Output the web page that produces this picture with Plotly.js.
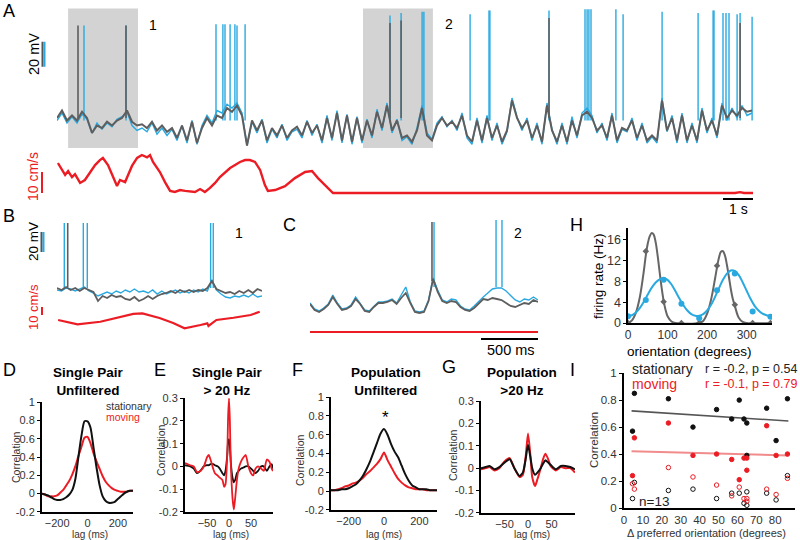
<!DOCTYPE html>
<html>
<head>
<meta charset="utf-8">
<script src="https://cdn.plot.ly/plotly-3.0.1.min.js"></script>
<style>html,body{margin:0;padding:0;background:#fff}#fig{width:800px;height:540px}</style>
</head>
<body>
<div id="fig"></div>
<script>
// ---------- data ----------

// A: membrane potential (mV), sampled every 1/6 s
const dtA = 1 / 6;
const aBlue = [-48,-42,-50,-45,-50,-43,-47,-58,-50,-55, -50,-53,-47,-45,-41,-52,-56,-54,-57,-50,
  -59,-54,-60,-55,-64,-52,-66,-48,-67,-52, -44,-50,-40,-42,-35,-38,-34,-42,-68,-49,
  -58,-47,-66,-55,-62,-51,-64,-57,-55,-62, -48,-60,-51,-66,-44,-64,-40,-66,-43,-67,
  -45,-66,-47,-62,-39,-56,-34,-58,-47,-64, -61,-67,-54,-36,-58,-63,-50,-45,-53,-48,
  -56,-42,-62,-67,-46,-66,-44,-64,-50,-67, -57,-30,-45,-56,-46,-64,-50,-67,-34,-55,
  -67,-50,-67,-45,-62,-42,-38,-44,-58,-50, -64,-42,-66,-55,-57,-46,-64,-50,-66,-61,
  -66,-30,-57,-44,-66,-42,-66,-50,-66,-38, -58,-46,-62,-34,-48,-38,-46,-36,-44,-42];
const aGray = [-46,-40,-48,-44,-48,-41,-46,-58,-52,-54, -49,-52,-48,-46,-40,-49,-52,-51,-54,-49,
  -56,-52,-57,-54,-62,-52,-64,-49,-66,-54, -46,-52,-44,-46,-38,-41,-36,-44,-68,-48,
  -56,-48,-64,-54,-60,-52,-62,-56,-53,-60, -49,-58,-52,-64,-46,-62,-42,-64,-44,-65,
  -46,-64,-48,-60,-41,-54,-36,-56,-48,-62, -60,-65,-56,-38,-60,-64,-52,-46,-52,-49,
  -54,-44,-60,-65,-48,-64,-46,-62,-52,-65, -56,-32,-46,-54,-48,-62,-52,-65,-36,-56,
  -65,-52,-65,-48,-60,-44,-41,-46,-56,-52, -62,-44,-64,-54,-56,-48,-62,-52,-64,-60,
  -64,-32,-56,-46,-64,-44,-64,-52,-64,-40, -56,-48,-60,-36,-46,-40,-44,-38,-41,-40];
const aBlueSpikeT = [0.90,2.30,5.30,5.53,5.60,5.77,5.93,6.00,6.27,11.10,11.47,12.17,12.23,13.77,14.40,14.43,
  16.40,17.60,17.67,17.73,17.80,18.63,18.87,20.17,21.37,21.87,21.90,22.20,22.30,22.40,22.67,22.77,23.17];
const aBlueSpikeV = [28,28,29,29,29,29,29,28,29,36,38,39,39,37,40,40,
  40,41,41,41,41,41,37,39,38,40,40,38,38,38,37,38,35];
const aGraySpikeT = [0.70,2.30,11.10,11.47,16.40,22.77];
const aGraySpikeV = [28,28,30,32,34,30];
const epochStart = [0.37, 10.2];
const epochEnd = [2.70, 12.53];
const epochLabel = ['1', '2'];

// A: running speed (cm/s)
const aSpeedT = [0.03,0.27,0.37,0.5,0.6,0.77,0.93,1.1,1.27,1.43, 1.53,1.7,1.87,2.0,2.1,2.27,2.37,2.5,2.67,2.83,
  3.0,3.1,3.2,3.43,3.6,3.77,3.93,4.1,4.27,4.6, 4.77,4.93,5.1,5.27,5.43,5.77,6.1,6.27,6.43,6.6,
  6.77,6.93,7.03,7.27,7.6,7.93,8.27,8.5,8.7,8.83, 9.1,9.2,15.0,22.6,22.77,22.9,23.2];
const aSpeed = [14.3,8.6,10.5,7.6,9.0,4.8,6.2,10.0,13.3,15.7, 16.7,13.3,7.6,3.3,6.2,5.2,8.6,12.9,16.7,18.1,
  17.0,18.1,14.8,10.0,5.2,1.0,0.5,1.4,1.0,0.5, 1.9,0.5,2.4,4.8,7.6,11.9,14.8,15.7,15.7,14.8,
  11.0,3.8,1.0,1.4,3.3,7.1,10.0,10.5,7.1,5.2, 1.4,0,0,0,0.4,0,0];

// B: epoch 1 (mV), every 0.04 s
const dtBC = 0.04;
const bGray = [-58,-60,-57,-60,-58,-61,-58,-60,-62,-71, -66,-68,-65,-67,-66,-69,-70,-67,-71,-69,
  -66,-69,-66,-64,-63,-61,-63,-60,-62,-60, -62,-60,-61,-58,-51,-59,-61,-63,-62,-64, -61,-63,-60,-63,-59,-61];
const bBlue = [-60,-61,-58,-59,-61,-59,-57,-61,-63,-66, -64,-62,-64,-61,-63,-60,-62,-59,-62,-61,
  -63,-60,-64,-61,-64,-62,-60,-63,-61,-63, -60,-62,-59,-61,-50,-60,-64,-67,-68,-66, -67,-65,-67,-64,-67,-66];
const bBlueSpikeT = [0.064,0.231,0.266,1.349,1.372];
const bGraySpikeT = [0.094];
const bSpeedT = [0.01,0.18,0.38,0.67,0.75,0.90,1.02,1.12,1.26,1.32,1.33,1.40,1.55,1.70,1.78];
const bSpeed = [18.8,13.4,16.6,26.3,27.1,21.3,15.0,8.4,12.5,14.6,11.3,18.8,21.6,25.0,29.1];

// C: epoch 2 (mV), every 0.04 s
const cBlue = [-58,-64,-66,-63,-59,-50,-58,-64,-63,-60, -52,-58,-65,-66,-61,-57,-57,-56,-54,-58,
  -50,-42,-57,-66,-67,-66,-55,-33,-45,-55, -57,-54,-55,-61,-64,-65,-61,-56,-52,-48,
  -44,-43,-43,-46,-51,-55,-57,-54,-55,-52, -55];
const cGray = [-59,-65,-67,-64,-60,-52,-59,-65,-64,-61, -54,-59,-66,-67,-62,-58,-58,-57,-55,-59,
  -53,-48,-58,-67,-68,-67,-56,-34,-47,-56, -58,-56,-57,-62,-65,-66,-63,-58,-54,-55,
  -53,-54,-55,-58,-61,-62,-60,-58,-59,-55, -57];
const cBlueSpikeT = [1.088,1.632,1.684];
const cBlueSpikeV = [23,25,25];
const cGraySpikeT = [1.07];
const cGraySpikeV = [23];
const cSpeedT = [0, 2.0];
const cSpeed = [0, 0];

// D-G: cross-correlations
const lagD = [-300,-280,-260,-240,-220,-200,-180,-160,-140,-120,-100,-80,-60,-40,-20,0,
  20,40,60,80,100,120,140,160,180,200,220,240,260,280,300];
const dStat = [0.00,-0.01,-0.02,-0.04,-0.06,-0.07,-0.07,-0.06,-0.04,-0.01,0.04,0.16,0.40,0.63,0.79,0.79,
  0.72,0.50,0.28,0.09,-0.03,-0.08,-0.10,-0.10,-0.09,-0.06,-0.03,0.00,0.02,0.03,0.03];
const dMov = [0.00,-0.01,-0.03,-0.03,-0.03,-0.02,0.01,0.04,0.09,0.14,0.21,0.30,0.41,0.51,0.61,0.62,
  0.55,0.44,0.35,0.27,0.19,0.13,0.09,0.06,0.04,0.03,0.02,0.02,0.02,0.03,0.03];

const lagE = [-100,-88,-80,-73,-65,-57,-50,-46,-42,-36,-32,-26,-21,-15,-11,-8,-4,-2,0,2,
  4,8,11,14,18,22,27,33,38,44,50,55,60,66,73,79,86,92,97,100];
const eStat = [0.005,0.0,-0.01,-0.03,-0.02,0.0,0.005,0.005,0.01,0.01,0.005,0.0,-0.01,-0.03,-0.04,-0.02,0.05,0.11,0.12,0.09,
  0.02,-0.05,-0.07,-0.06,-0.03,-0.02,-0.01,-0.005,0.0,0.0,-0.01,-0.02,-0.03,-0.02,0.0,0.0,-0.02,0.0,0.01,-0.01];
const eMov = [0.015,0.005,0.0,-0.025,-0.02,0.0,0.04,0.05,0.03,-0.01,-0.03,-0.04,-0.05,-0.06,-0.09,-0.08,0.05,0.22,0.30,0.20,
  0.02,-0.14,-0.19,-0.14,-0.06,-0.01,0.02,0.04,0.05,0.0,-0.03,-0.04,-0.01,0.0,-0.01,-0.02,0.03,0.02,-0.01,-0.02];

const lagF = lagD;
const fStat = [0.01,0.01,0.01,0.02,0.02,0.03,0.05,0.07,0.11,0.16,0.23,0.31,0.41,0.51,0.61,0.66,
  0.60,0.50,0.42,0.36,0.27,0.18,0.11,0.06,0.04,0.02,0.02,0.02,0.01,0.01,0.01];
const fMov = [0.01,0.01,0.02,0.03,0.05,0.06,0.08,0.09,0.11,0.14,0.18,0.21,0.25,0.29,0.34,0.41,
  0.33,0.26,0.19,0.13,0.09,0.06,0.04,0.03,0.02,0.02,0.02,0.01,0.01,0.01,0.01];

const lagG = [-100,-90,-82,-71,-61,-50,-39,-29,-18,-11,-5,0,5,9,15,20,27,32,37,43,48,59,70,80,90,100];
const gStat = [0.0,0.005,0.01,-0.005,0.005,0.025,0.04,0.0,-0.035,-0.02,0.04,0.105,0.05,0.0,-0.03,-0.02,0.0,0.02,0.035,0.025,0.015,-0.005,0.01,0.01,0.005,-0.005];
const gMov = [-0.005,0.0,0.005,-0.01,0.0,0.03,0.045,0.0,-0.04,-0.03,0.05,0.155,0.06,-0.04,-0.08,-0.05,0.0,0.04,0.065,0.04,0.01,-0.01,0.005,0.0,0.0,-0.02];

// H: orientation tuning
const oriPts = [0,45,90,135,180,225,270,315,360];
const hStatPts = [0,13.8,4.1,0,0,11.0,3.5,0,0];
const hMovPts = [1.3,4.4,8.3,3.7,0.9,6.3,9.5,2.2,1.2];
const oriFitStat = [0,10,20,30,40,45,50,55,60,65,70,75,80,85,90,95,100,110,120,180,190,200,210,220,225,230,235,240,245,250,255,260,265,270,280,290,300,364];
const hStatFit = [0,0.5,2.0,5.0,10.0,13.0,15.3,16.7,17.3,17.0,15.5,12.9,9.8,6.8,4.3,2.5,1.3,0.3,0,0,0.4,1.8,4.5,8.5,10.7,12.6,13.7,13.8,13.0,11.2,8.9,6.5,4.6,3.3,1.0,0.2,0,0];
const oriFitMov = [0,10,20,30,40,50,60,70,80,90,100,110,120,130,140,150,160,170,180,190,200,210,220,230,240,250,260,270,280,290,300,310,320,330,340,350,360];
const hMovFit = [1.4,1.5,2.0,2.9,4.1,5.5,6.8,7.8,8.4,8.6,8.3,7.4,6.1,4.7,3.4,2.4,1.7,1.4,1.4,1.7,2.4,3.5,5.0,6.7,8.3,9.5,10.1,10.0,9.2,7.8,6.2,4.6,3.3,2.4,1.8,1.5,1.3];

// I: correlation vs difference in preferred orientation (n = 13 pairs)
const dOri = [4.5,5.5,23.5,36.5,49,57,61,63.5,65,65,75.5,80.5,86.5];
const iStatUnf = [0.57,0.85,0.81,0.60,0.73,0.66,0.80,0.66,0.63,0.39,0.74,0.50,0.81];
const iMovUnf = [0.24,0.52,0.63,0.39,0.40,0.36,0.21,0.37,0.28,0.37,0.61,0.39,0.40];
const iStatHf = [0.07,0.19,0.13,0.14,0.07,0.11,0.11,0.035,0.02,0.12,0.11,0.06,0.24];
const iMovHf = [0.18,0.14,0.30,0.23,0.17,0.09,0.155,0.07,0.05,0.07,0.14,0.10,0.22];
const fitOri = [4, 87];
const fitStat = [0.72, 0.645];
const fitMov = [0.42, 0.39];

const corrTicks = [-0.2,0,0.2,0.4,0.6,0.8,1];
const corrText = ['-0.2','0','0.2','0.4','0.6','0.8','1'];
const hfTicks = [-0.2,-0.1,0,0.1,0.2,0.3];
const hfText = ['-0.2','-0.1','0','0.1','0.2','0.3'];

// ---------- styling ----------
const FONT = 'Liberation Sans, Arial, sans-serif';
const BLUE = '#29a9e0', GRAY = '#5e5e5e', RED = '#ec1c24', BLACK = '#111';
const W = 800, H = 540;
const px = x => x / W;
const py = y => 1 - y / H;
const xd = (a, b) => [a / W, b / W];
const yd = (top, bot) => [1 - bot / H, 1 - top / H];

function spikes(times, peaks, base) {
  let x = [], y = [];
  times.forEach((t, i) => {
    x.push(t, t, null);
    y.push(base, Array.isArray(peaks) ? peaks[i] : peaks, null);
  });
  return {x, y};
}
function line(x, y, color, width, ax, extra) {
  return Object.assign({type: 'scatter', mode: 'lines', x, y, line: {color, width},
    xaxis: 'x' + ax, yaxis: 'y' + ax, hoverinfo: 'skip'}, extra || {});
}
function sampled(y, dt, color, width, ax) {
  return {type: 'scatter', mode: 'lines', x0: 0, dx: dt, y, line: {color, width},
    xaxis: 'x' + ax, yaxis: 'y' + ax, hoverinfo: 'skip'};
}
function spikeTrace(sp, color, width, ax) {
  return line(sp.x, sp.y, color, width, ax, {connectgaps: false});
}

const traces = [];
// A
traces.push(sampled(aBlue, dtA, BLUE, 1.4, ''));
traces.push(spikeTrace(spikes(aBlueSpikeT, aBlueSpikeV, -48), BLUE, 1.4, ''));
traces.push(sampled(aGray, dtA, GRAY, 2, ''));
traces.push(spikeTrace(spikes(aGraySpikeT, aGraySpikeV, -46), GRAY, 1.6, ''));
traces.push(line(aSpeedT, aSpeed, RED, 2.4, '2'));
// B
traces.push(sampled(bBlue, dtBC, BLUE, 1.4, '3'));
traces.push(spikeTrace(spikes(bBlueSpikeT, 7, -58), BLUE, 1.4, '3'));
traces.push(sampled(bGray, dtBC, GRAY, 1.8, '3'));
traces.push(spikeTrace(spikes(bGraySpikeT, 7, -57), GRAY, 1.6, '3'));
traces.push(line(bSpeedT, bSpeed, RED, 2.2, '4'));
// C
traces.push(sampled(cBlue, dtBC, BLUE, 1.4, '5'));
traces.push(spikeTrace(spikes(cBlueSpikeT, cBlueSpikeV, -42), BLUE, 1.4, '5'));
traces.push(sampled(cGray, dtBC, GRAY, 1.8, '5'));
traces.push(spikeTrace(spikes(cGraySpikeT, cGraySpikeV, -36), GRAY, 1.6, '5'));
traces.push(line(cSpeedT, cSpeed, RED, 2, '6'));
// H
traces.push(line(oriFitStat, hStatFit, '#666', 2, '7', {line: {color: '#666', width: 2, shape: 'spline'}}));
traces.push(line(oriFitMov, hMovFit, BLUE, 2, '7', {line: {color: BLUE, width: 2, shape: 'spline'}}));
traces.push(line(oriPts, hStatPts, '#666', 0, '7', {mode: 'markers', marker: {color: '#666', size: 5, symbol: 'diamond'}}));
traces.push(line(oriPts, hMovPts, BLUE, 0, '7', {mode: 'markers', marker: {color: BLUE, size: 6}}));
// D-G
const sp = {shape: 'spline', smoothing: 0.6};
traces.push(line(lagD, dMov, RED, 2, '8', {line: Object.assign({color: RED, width: 2}, sp)}));
traces.push(line(lagD, dStat, BLACK, 2, '8', {line: Object.assign({color: BLACK, width: 2}, sp)}));
traces.push(line(lagE, eStat, BLACK, 1.8, '9', {line: Object.assign({color: BLACK, width: 1.8}, sp)}));
traces.push(line(lagE, eMov, RED, 1.8, '9', {line: Object.assign({color: RED, width: 1.8}, sp)}));
traces.push(line(lagF, fMov, RED, 2, '10', {line: Object.assign({color: RED, width: 2}, sp)}));
traces.push(line(lagF, fStat, BLACK, 2, '10', {line: Object.assign({color: BLACK, width: 2}, sp)}));
traces.push(line(lagG, gMov, RED, 2, '11', {line: Object.assign({color: RED, width: 2}, sp)}));
traces.push(line(lagG, gStat, BLACK, 2, '11', {line: Object.assign({color: BLACK, width: 2}, sp)}));
// I
traces.push(line(fitOri, fitStat, '#555', 1.6, '12'));
traces.push(line(fitOri, fitMov, '#f28b8b', 2, '12'));
const dot = (y, color, sym) => line(dOri, y, color, 0, '12',
  {mode: 'markers', marker: {color, size: 4.5, symbol: sym || 'circle', line: {color, width: 1}}});
traces.push(dot(iStatUnf, BLACK));
traces.push(dot(iMovUnf, RED));
traces.push(dot(iStatHf, BLACK, 'circle-open'));
traces.push(dot(iMovHf, RED, 'circle-open'));

// ---------- axes ----------
const hidden = (domain, range, anchor) => ({domain, range, anchor, visible: false, fixedrange: true});
function shown(domain, range, anchor, tickvals, ticktext, size, lw, noTicks) {
  return {domain, range, anchor, showline: true, linecolor: '#000', linewidth: lw || 2,
    ticks: noTicks ? '' : 'outside', ticklen: 3, tickcolor: '#000', tickvals, ticktext,
    tickfont: {family: FONT, size: size || 11, color: '#333'},
    showgrid: false, zeroline: false, fixedrange: true};
}

const layout = {
  width: W, height: H, margin: {l: 0, r: 0, t: 0, b: 0},
  paper_bgcolor: '#fff', plot_bgcolor: 'rgba(0,0,0,0)', showlegend: false, hovermode: false,
  font: {family: FONT},
  xaxis: hidden(xd(57, 753), [0, 23.2], 'y'),
  yaxis: hidden(yd(9, 150), [-71.6, 41.2], 'x'),
  xaxis2: hidden(xd(57, 753), [0, 23.2], 'y2'),
  yaxis2: hidden(yd(150, 196), [-1.43, 20.5], 'x2'),
  xaxis3: hidden(xd(57, 262), [0, 1.8], 'y3'),
  yaxis3: hidden(yd(215, 305), [-75, 15], 'x3'),
  xaxis4: hidden(xd(57, 262), [0, 1.8], 'y4'),
  yaxis4: hidden(yd(305, 335), [0, 37.5], 'x4'),
  xaxis5: hidden(xd(310, 538), [0, 2.0], 'y5'),
  yaxis5: hidden(yd(215, 320), [-75, 30], 'x5'),
  xaxis6: hidden(xd(310, 538), [0, 2.0], 'y6'),
  yaxis6: hidden(yd(320, 345), [-16.25, 15], 'x6'),
  xaxis7: shown(xd(628, 772), [0, 364], 'y7', [0, 100, 200, 300], ['0', '100', '200', '300'], 12, 1.6, true),
  yaxis7: shown(yd(228, 323), [0, 18.27], 'x7', [0, 4, 8, 12, 16], ['0', '4', '8', '12', '16'], 12.5, 1.6),
  xaxis8: shown(xd(42, 133), [-300, 300], 'y8', [-200, 0, 200], ['\u2212200', '0', '200'], 11, 2, true),
  yaxis8: shown(yd(402, 512), [-0.201, 1.001], 'x8', corrTicks, corrText),
  xaxis9: shown(xd(185, 273), [-100, 100], 'y9', [-50, 0, 50], ['\u221250', '0', '50'], 11, 2, true),
  yaxis9: shown(yd(398, 512), [-0.201, 0.301], 'x9', hfTicks, hfText),
  xaxis10: shown(xd(331, 437), [-300, 300], 'y10', [-200, 0, 200], ['\u2212200', '0', '200'], 11, 2, true),
  yaxis10: shown(yd(397, 510), [-0.201, 1.001], 'x10', corrTicks, corrText),
  xaxis11: shown(xd(481, 575), [-100, 100], 'y11', [-50, 0, 50], ['\u221250', '0', '50'], 11, 2, true),
  yaxis11: shown(yd(401, 513), [-0.201, 0.301], 'x11', hfTicks, hfText),
  xaxis12: shown(xd(624, 795), [0, 90.5], 'y12', [0,10,20,30,40,50,60,70,80,90],
    ['0','10','20','30','40','50','60','70','80','90'], 11.5, 2, true),
  yaxis12: shown(yd(373, 508), [0, 1.001], 'x12', [0, 0.2, 0.4, 0.6, 0.8, 1], ['0','0.2','0.4','0.6','0.8','1'], 11.5)
};

// shaded epochs and scale bars
const shapes = [];
epochStart.forEach((s, i) => shapes.push({type: 'rect', xref: 'x', yref: 'paper', x0: s, x1: epochEnd[i],
  y0: py(148), y1: py(8.5), fillcolor: '#d3d3d3', line: {width: 0}, layer: 'below'}));
const vbar = (x, yref, y0, y1, color) => ({type: 'line', xref: 'paper', yref, x0: px(x), x1: px(x), y0, y1,
  line: {color, width: 2}});
const hbar = (xref, x0, x1, y) => ({type: 'line', xref, yref: 'paper', x0, x1, y0: py(y), y1: py(y),
  line: {color: '#000', width: 2}});
shapes.push(vbar(42.5, 'y', -5, 15, '#555'), vbar(44.5, 'y', -5, 15, BLUE));
shapes.push(vbar(42, 'y2', 0, 10, RED));
shapes.push(hbar('x', 22.2, 23.2, 199));
shapes.push(vbar(41.5, 'y3', -22, -2, '#555'), vbar(43.5, 'y3', -22, -2, BLUE));
shapes.push(vbar(42, 'y4', 25, 35, RED));
shapes.push(hbar('x5', 1.5, 2.0, 339));
layout.shapes = shapes;

// text
function note(x, y, text, size, color, extra) {
  return Object.assign({xref: 'paper', yref: 'paper', x: px(x), y: py(y), text, showarrow: false,
    font: {family: FONT, size, color: color || '#000'}, xanchor: 'center', yanchor: 'middle'}, extra || {});
}
const rot = {textangle: -90};
const ann = [
  note(9, 11, 'A', 18), note(9, 216, 'B', 18), note(289, 225, 'C', 18),
  note(9, 370, 'D', 18), note(160, 370, 'E', 18), note(297, 370, 'F', 18),
  note(449, 367, 'G', 18), note(576, 225, 'H', 18), note(572, 370, 'I', 18),
  note(153, 25, epochLabel[0], 14), note(449, 24, epochLabel[1], 14),
  note(239, 233, epochLabel[0], 14), note(518, 233, epochLabel[1], 14),
  note(34, 54, '20 mV', 14.5, '#000', rot),
  note(33, 177, '10 cm/s', 14, RED, rot),
  note(738, 209, '1 s', 14),
  note(33, 242, '20 mV', 13.5, '#000', rot),
  note(33, 307, '10 cm/s', 13, RED, rot),
  note(511, 350, '500 ms', 14.5),
  note(598, 276, 'firing rate (Hz)', 13.5, '#000', rot),
  note(689, 351, 'orientation (degrees)', 13.5),
  note(88, 381, '<b>Single Pair</b><br><b>Unfiltered</b>', 13.5),
  note(228, 381, '<b>Single Pair</b><br><b>&gt; 20 Hz</b>', 13.5),
  note(386, 381, '<b>Population</b><br><b>Unfiltered</b>', 13.5),
  note(522, 381, '<b>Population</b><br><b>&gt;20 Hz</b>', 13.5),
  note(104, 406, 'stationary', 10.5, '#333', {xanchor: 'left'}),
  note(104, 417, 'moving', 10.5, RED, {xanchor: 'left'}),
  note(385, 417, '*', 17),
  note(16, 457, 'Correlation', 10.5, '#333', rot), note(90, 534, 'lag (ms)', 10, '#333'),
  note(161, 450, 'Correlation', 10.5, '#333', rot), note(231, 534, 'lag (ms)', 10, '#333'),
  note(300, 460, 'Correlation', 10.5, '#333', rot), note(384, 534, 'lag (ms)', 10, '#333'),
  note(453, 455, 'Correlation', 10.5, '#333', rot), note(532, 534, 'lag (ms)', 10, '#333'),
  note(594, 440, 'Correlation', 11.5, '#333', rot),
  note(706, 533, '\u0394 preferred orientation (degrees)', 11, '#333'),
  note(630, 369, 'stationary', 14, '#222', {xanchor: 'left'}),
  note(630, 384, 'moving', 14, RED, {xanchor: 'left'}),
  note(799, 369, 'r = -0.2, p = 0.54', 12.5, '#222', {xanchor: 'right'}),
  note(799, 384, 'r = -0.1, p = 0.79', 12.5, RED, {xanchor: 'right'}),
  note(637, 501, 'n=13', 13.5, '#222', {xanchor: 'left'})
];
layout.annotations = ann;

Plotly.newPlot('fig', traces, layout, {staticPlot: true, displayModeBar: false});
</script>
</body>
</html>
